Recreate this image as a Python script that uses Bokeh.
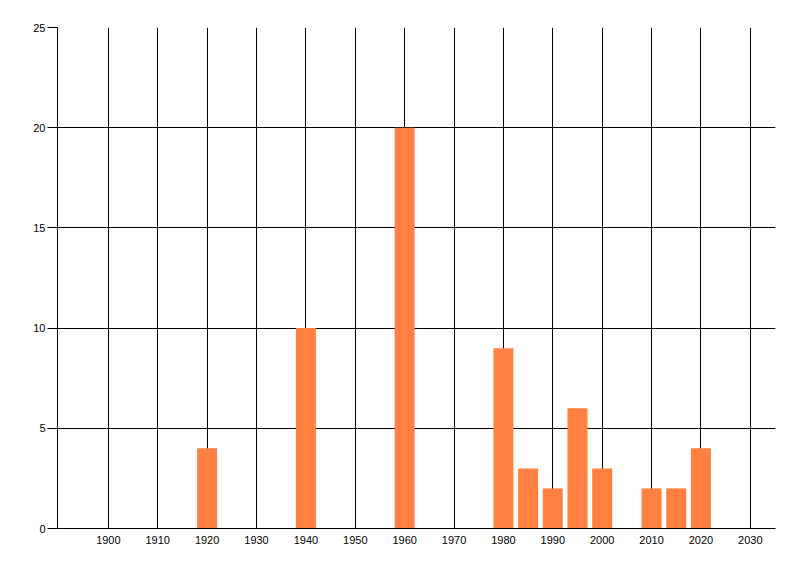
from bokeh.plotting import figure
from bokeh.models import Range1d, FixedTicker, ColumnDataSource
from bokeh.embed import file_html
from bokeh.resources import INLINE

years = [1920, 1940, 1960, 1980, 1985, 1990, 1995, 2000, 2010, 2015, 2020]
counts = [4, 10, 20, 9, 3, 2, 6, 3, 2, 2, 4]
x_ticks = list(range(1900, 2031, 10))
y_ticks = [0, 5, 10, 15, 20, 25]

src = ColumnDataSource(data=dict(x=years, top=counts))

p = figure(width=792, height=568, output_backend="svg", toolbar_location=None,
           x_range=Range1d(1889.7, 2035.1), y_range=Range1d(0, 25),
           min_border_left=57, min_border_right=17, min_border_top=27, min_border_bottom=40)
p.frame_width = 718
p.frame_height = 501
p.outline_line_color = None
p.background_fill_color = "white"
p.border_fill_color = "white"

p.vbar(x="x", top="top", bottom=0, width=4.05, source=src, fill_color="#FF8040", line_color=None)

p.xaxis.ticker = FixedTicker(ticks=x_ticks)
p.yaxis.ticker = FixedTicker(ticks=y_ticks)
p.xgrid.ticker = FixedTicker(ticks=x_ticks)
p.ygrid.ticker = FixedTicker(ticks=y_ticks)
for g in (p.xgrid, p.ygrid):
    g.grid_line_color = "black"
    g.grid_line_width = 1
    g.grid_line_alpha = 1.0

for ax in (p.xaxis, p.yaxis):
    ax.axis_line_color = "black"
    ax.axis_line_width = 1
    ax.minor_tick_line_color = None
    ax.major_label_text_font = "Liberation Sans"
    ax.major_label_text_font_size = "11px"
    ax.major_label_text_color = "black"
    ax.major_tick_line_color = "black"

p.xaxis.major_tick_line_color = None
p.xaxis.major_tick_in = 0
p.xaxis.major_tick_out = 0
p.xaxis.major_label_standoff = 7
p.yaxis.major_tick_in = 0
p.yaxis.major_tick_out = 10
p.yaxis.major_label_standoff = 2

open("out.html", "w").write(file_html(p, INLINE))
